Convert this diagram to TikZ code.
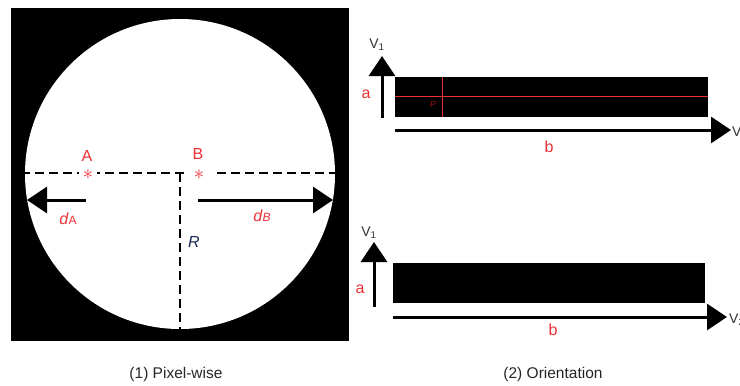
\documentclass[tikz,border=0pt]{standalone}
\usepackage{fontspec}
\setmainfont{Liberation Sans}
\usetikzlibrary{arrows.meta}
\definecolor{lblred}{RGB}{236,48,52}
\definecolor{darkred}{RGB}{150,20,20}
\definecolor{rblue}{RGB}{25,40,85}
\newcommand{\fs}[1]{\fontsize{#1}{#1}\selectfont}
\newcommand{\redstar}{\smash{\raisebox{-5.2pt}{$\ast$}}}

\begin{document}
\begin{tikzpicture}[x=1pt, y=-1pt,
    lbl/.style={text=lblred, font=\fs{16}, inner sep=0pt},
    axlbl/.style={text=black!80, font=\fs{14}, inner sep=0pt},
    bigarrow/.style={line width=3pt, -{Triangle[length=20pt,width=26pt]}},
    dashln/.style={line width=2.6pt, dash pattern=on 9pt off 5pt},
    star/.style={text=lblred, font=\fs{21}, fill=white, inner xsep=4pt,
        inner ysep=0pt, minimum height=8pt},
    caption/.style={font=\fs{15.5}, text=black!85}]
    \clip (0,0) rectangle (740,386);

    % (1) Pixel-wise
    \begin{scope}
        \fill[black] (11,8) rectangle (349,341);
        \fill[white] (180,174) circle (155pt);
        \coordinate (hL) at (21,173);
        \coordinate (hR) at (338,173);
        \coordinate (ctr) at (180,173);
        \coordinate (bot) at (180,329);
        \draw[dashln] (hL) -- (hR);
        \draw[dashln] (ctr) -- (bot);
        \node[star] (starA) at (88,174) {\redstar};
        \node[star, inner xsep=8pt] (starB) at (199,174) {\redstar};
        \node[lbl] (labA) at (87,156) {A};
        \node[lbl] (labB) at (198,154) {B};
        \coordinate (aS) at (86,200);
        \coordinate (aE) at (27,200);
        \coordinate (bS) at (198,200);
        \coordinate (bE) at (333,200);
        \draw[bigarrow] (aS) -- (aE);
        \draw[bigarrow] (bS) -- (bE);
        \node[lbl] (dA) at (68,219) {\textit{d}{\fs{12}A}};
        \node[lbl] (dB) at (262,216) {\textit{d}{\fs{12}\textit{B}}};
        \node[text=rblue, font=\fs{16}\itshape, inner sep=0pt] (R) at (194,242) {R};
        \node[caption] (cap1) at (176,374) {(1) Pixel-wise};
    \end{scope}

    % (2) Orientation, oben
    \begin{scope}
        \fill[black] (395,77) rectangle (708,117);
        \coordinate (pL) at (395,96);
        \coordinate (pR) at (708,96);
        \coordinate (pT) at (442,77);
        \coordinate (pB) at (442,117);
        \draw[lblred, line width=0.8pt] (pL) -- (pR);
        \draw[lblred, line width=0.8pt] (pT) -- (pB);
        \node[text=darkred, font=\fs{9}\itshape, inner sep=0pt] (P) at (433,104) {P};
        \coordinate (v1S) at (382,118);
        \coordinate (v1E) at (382,56);
        \draw[bigarrow] (v1S) -- (v1E);
        \node[axlbl] (v1) at (377,45) {V\textsubscript{1}};
        \coordinate (v2S) at (395,130);
        \coordinate (v2E) at (731,130);
        \draw[bigarrow] (v2S) -- (v2E);
        \node[axlbl, anchor=west] (v2) at (732,133) {V\textsubscript{2}};
        \node[lbl] (a1) at (366,94) {a};
        \node[lbl] (b1) at (549,147) {b};
    \end{scope}

    % (2) Orientation, unten
    \begin{scope}
        \fill[black] (393,263) rectangle (705,303);
        \coordinate (w1S) at (374,307);
        \coordinate (w1E) at (374,242);
        \draw[bigarrow] (w1S) -- (w1E);
        \node[axlbl] (w1) at (369,233) {V\textsubscript{1}};
        \coordinate (w2S) at (393,317);
        \coordinate (w2E) at (727,317);
        \draw[bigarrow] (w2S) -- (w2E);
        \node[axlbl, anchor=west] (w2) at (729,320) {V\textsubscript{2}};
        \node[lbl] (a2) at (360,289) {a};
        \node[lbl] (b2) at (553,330) {b};
        \node[caption] (cap2) at (553,374) {(2) Orientation};
    \end{scope}
\end{tikzpicture}
\end{document}
